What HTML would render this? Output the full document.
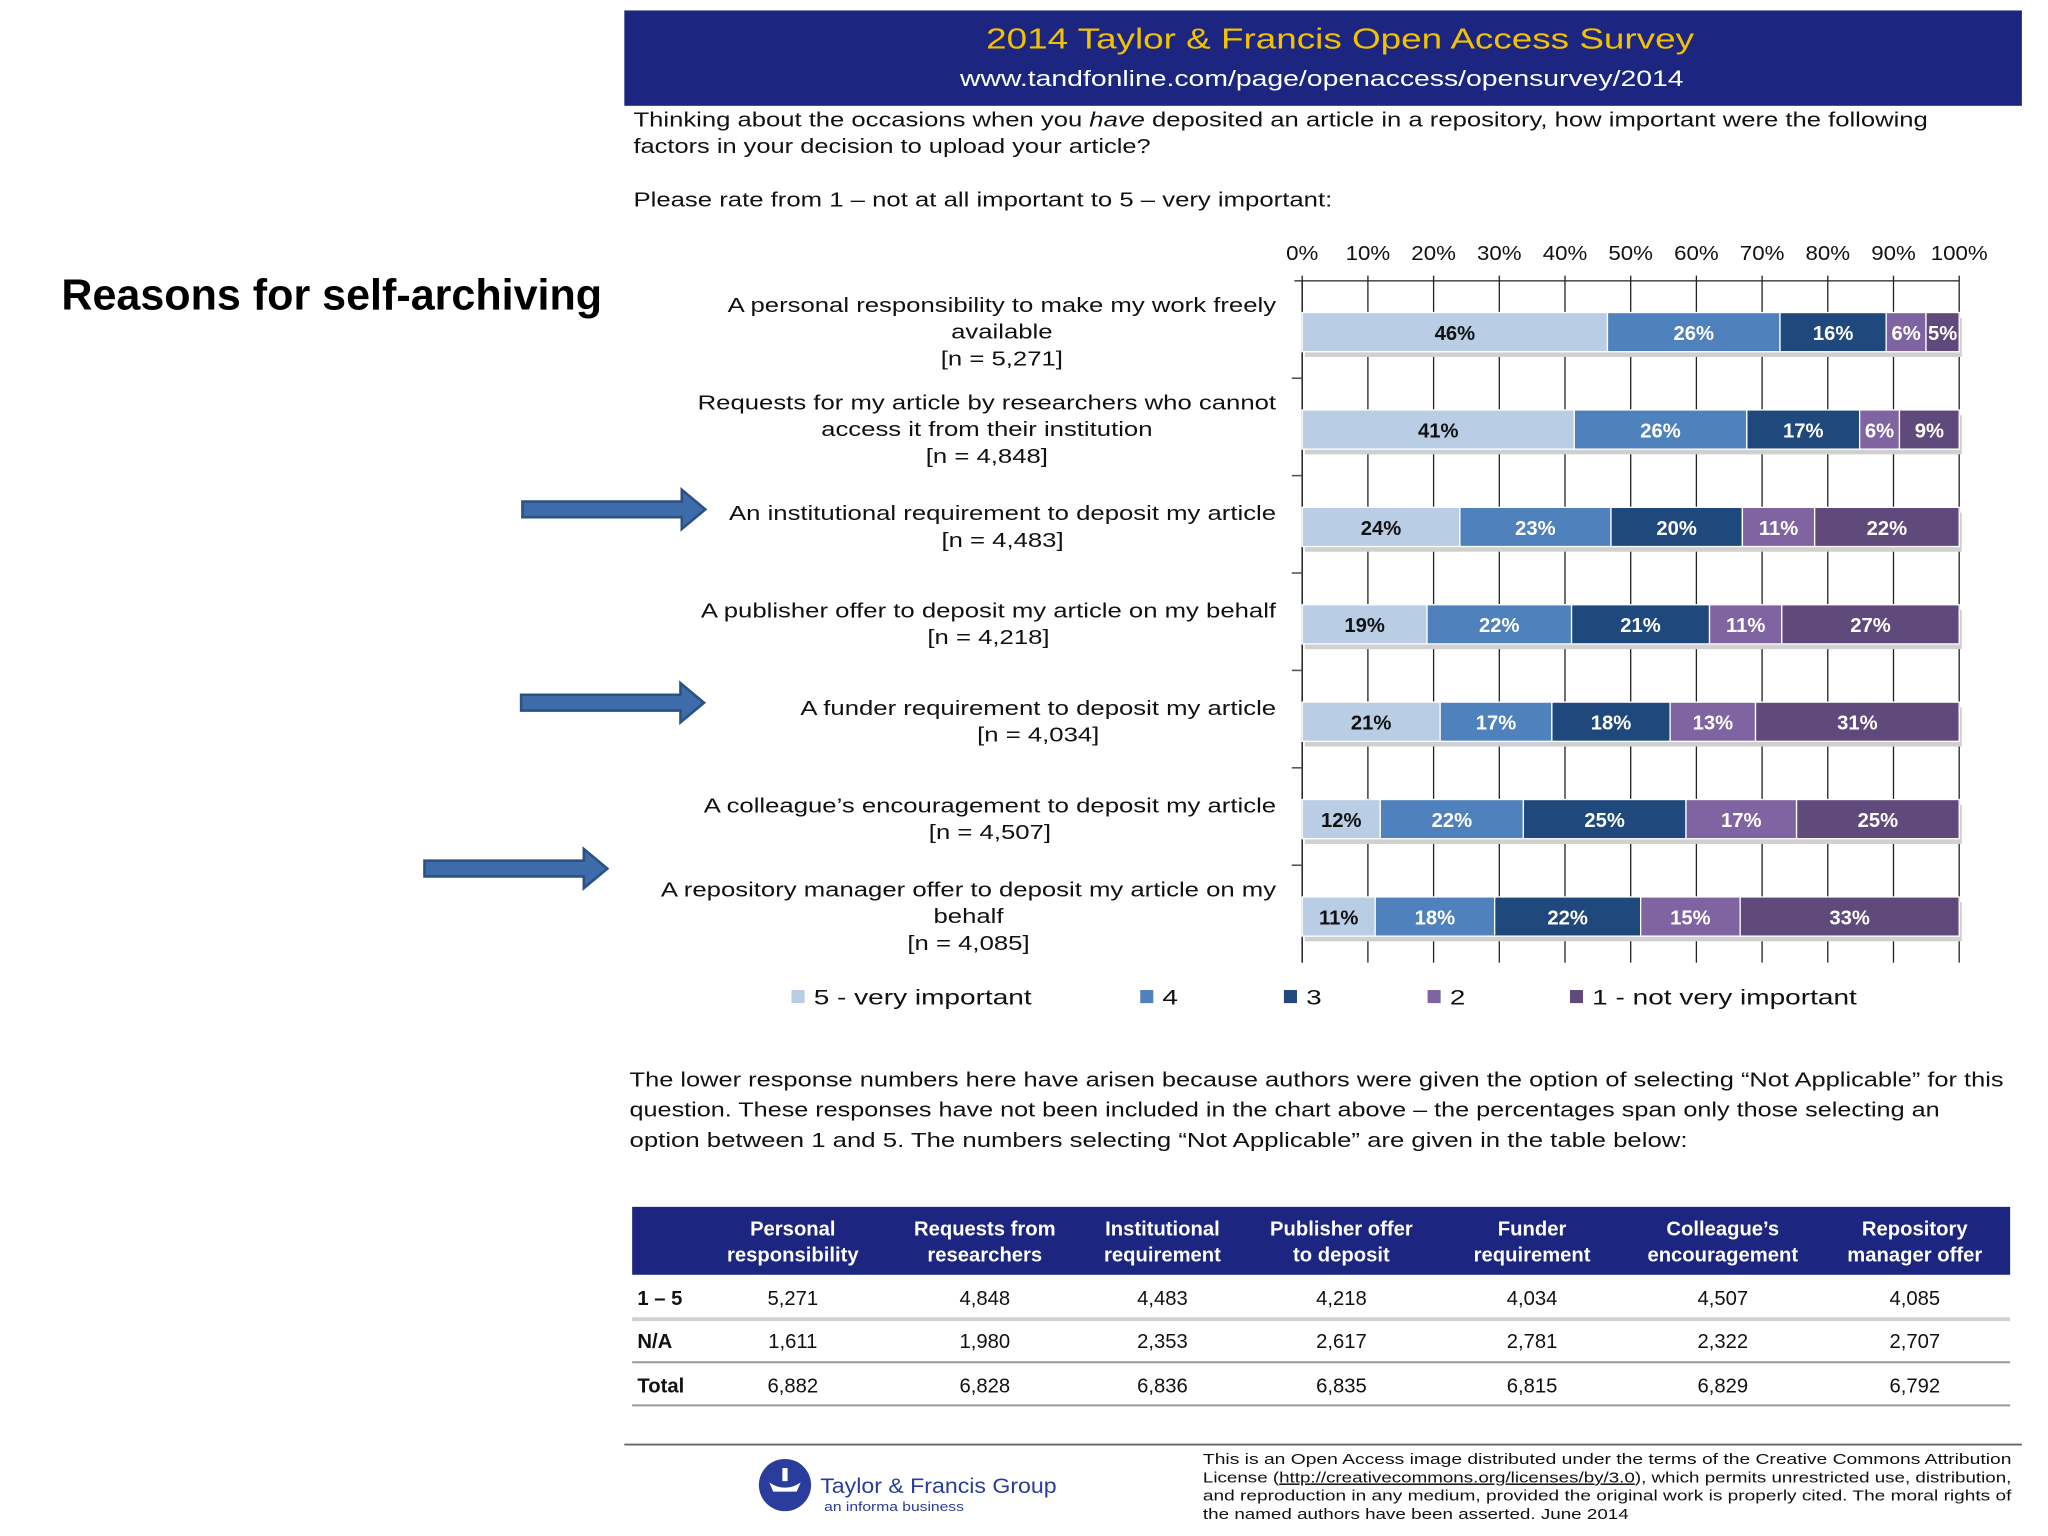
<!DOCTYPE html>
<html><head><meta charset="utf-8"><style>
html,body{margin:0;padding:0;background:#fff;}
svg{display:block;font-family:"Liberation Sans",sans-serif;}
</style></head><body>
<svg width="2048" height="1536" viewBox="0 0 1568 1176">
<text x="47" y="237" font-size="33" font-weight="bold" fill="#000" textLength="414" lengthAdjust="spacingAndGlyphs">Reasons for self-archiving</text>
<rect x="478" y="8" width="1070" height="73" fill="#1c2580"/>
<text x="1026" y="37" font-size="22" fill="#f2c200" text-anchor="middle" textLength="542" lengthAdjust="spacingAndGlyphs">2014 Taylor &amp; Francis Open Access Survey</text>
<text x="1012" y="66" font-size="17" fill="#fff" text-anchor="middle" textLength="554" lengthAdjust="spacingAndGlyphs">www.tandfonline.com/page/openaccess/opensurvey/2014</text>
<g font-size="15.5" fill="#111">
<text x="485" y="97" textLength="991" lengthAdjust="spacingAndGlyphs">Thinking about the occasions when you <tspan font-style="italic">have</tspan> deposited an article in a repository, how important were the following</text>
<text x="485" y="117" textLength="396" lengthAdjust="spacingAndGlyphs">factors in your decision to upload your article?</text>
<text x="485" y="158" textLength="535" lengthAdjust="spacingAndGlyphs">Please rate from 1 – not at all important to 5 – very important:</text>
</g>
<g id="chart"></g>
<g id="arrows"></g>
<g font-size="15.5" fill="#111">
<text x="482" y="832" textLength="1052" lengthAdjust="spacingAndGlyphs">The lower response numbers here have arisen because authors were given the option of selecting “Not Applicable” for this</text>
<text x="482" y="855" textLength="1003" lengthAdjust="spacingAndGlyphs">question.  These responses have not been included in the chart above – the percentages span only those selecting an</text>
<text x="482" y="878" textLength="810" lengthAdjust="spacingAndGlyphs">option between 1 and 5.  The numbers selecting “Not Applicable” are given in the table below:</text>
</g>
<g id="table"></g>
<line x1="478" y1="1106" x2="1548" y2="1106" stroke="#666" stroke-width="1.5"/>
<g>
<circle cx="601" cy="1137" r="20" fill="#2a3d9c"/>
<path d="M589 1135 q12 8 24 0 l-3 7 h-18 z" fill="#fff"/>
<rect x="599" y="1124" width="4" height="10" fill="#fff"/>
<text x="628" y="1143" font-size="16" fill="#2a3d9c" textLength="181" lengthAdjust="spacingAndGlyphs">Taylor &amp; Francis Group</text>
<text x="631" y="1157" font-size="10" fill="#2a3d9c" textLength="107" lengthAdjust="spacingAndGlyphs">an informa business</text>
</g>
<g font-size="11.5" fill="#111">
<text x="921" y="1121" textLength="619" lengthAdjust="spacingAndGlyphs">This is an Open Access image distributed under the terms of the Creative Commons Attribution</text>
<text x="921" y="1135" textLength="619" lengthAdjust="spacingAndGlyphs">License (<tspan text-decoration="underline">http://creativecommons.org/licenses/by/3.0</tspan>), which permits unrestricted use, distribution,</text>
<text x="921" y="1149" textLength="619" lengthAdjust="spacingAndGlyphs">and reproduction in any medium, provided the original work is properly cited. The moral rights of</text>
<text x="921" y="1163" textLength="326" lengthAdjust="spacingAndGlyphs">the named authors have been asserted.   June 2014</text>
</g>
</svg>
<script>
const NS="http://www.w3.org/2000/svg";
const categories=[
 ["A personal responsibility to make my work freely","available","[n = 5,271]"],
 ["Requests for my article by researchers who cannot","access it from their institution","[n = 4,848]"],
 ["An institutional requirement to deposit my article","[n = 4,483]"],
 ["A publisher offer to deposit my article on my behalf","[n = 4,218]"],
 ["A funder requirement to deposit my article","[n = 4,034]"],
 ["A colleague’s encouragement to deposit my article","[n = 4,507]"],
 ["A repository manager offer to deposit my article on my","behalf","[n = 4,085]"]
];
const s5=[46,41,24,19,21,12,11];
const s4=[26,26,23,22,17,22,18];
const s3=[16,17,20,21,18,25,22];
const s2=[6,6,11,11,13,17,15];
const s1=[5,9,22,27,31,25,33];
const seriesNames=["5 - very important","4","3","2","1 - not very important"];
const tickLabels=["0%","10%","20%","30%","40%","50%","60%","70%","80%","90%","100%"];
const tableCols=[["Personal","responsibility"],["Requests from","researchers"],["Institutional","requirement"],["Publisher offer","to deposit"],["Funder","requirement"],["Colleague’s","encouragement"],["Repository","manager offer"]];
const tableRowLabels=["1 – 5","N/A","Total"];
const rowOk=["5,271","4,848","4,483","4,218","4,034","4,507","4,085"];
const rowNA=["1,611","1,980","2,353","2,617","2,781","2,322","2,707"];
const rowTotal=["6,882","6,828","6,836","6,835","6,815","6,829","6,792"];

const colors=["#b9cde5","#4f81bd","#1f497d","#8064a2","#604a7b"];
const X0=997,X1=1500,YT=215,YB=737;
const xs=v=>X0+(X1-X0)*v/100;
const rowH=(YB-YT)/categories.length;
const yc=i=>YT+rowH*(i+0.5)+2;
function el(tag,attrs,parent,txt){const e=document.createElementNS(NS,tag);for(const k in attrs)e.setAttribute(k,attrs[k]);if(txt!==undefined)e.textContent=txt;parent.appendChild(e);return e;}
function stretch(t,f){const w=t.getComputedTextLength();t.setAttribute("textLength",w*f);t.setAttribute("lengthAdjust","spacingAndGlyphs");return w*f;}
const chart=document.getElementById("chart");
let a=el("line",{x1:X0-6,y1:YT,x2:X1,y2:YT,stroke:"#555","stroke-width":1.2},chart);


a=el("line",{x1:X0,y1:YT,x2:X0,y2:YB,stroke:"#555","stroke-width":1.2},chart);


tickLabels.forEach((t,k)=>{
 const x=xs(k*10);
 const g=el("line",{x1:x,y1:YT-4,x2:x,y2:YB,stroke:"#222","stroke-width":1},chart);
 
 
 const tx=el("text",{x:x,y:199,"font-size":15.5,"text-anchor":"middle",fill:"#111"},chart,t);
 
 
 stretch(tx,1.1);
});
for(let i=1;i<categories.length;i++){
 const y=YT+rowH*i;
 const tk=el("line",{x1:X0-8,y1:y,x2:X0,y2:y,stroke:"#555","stroke-width":1.2},chart);
 
 
}
const series=[s5,s4,s3,s2,s1];
categories.forEach((lines,i)=>{
 const c=yc(i);
 const n=lines.length;
 const ts=lines.map((ln,j)=>{
  const t=el("text",{x:0,y:c+5+(j-(n-1)/2)*20.5,"font-size":15.5,"text-anchor":"middle",fill:"#111"},chart,ln);
  
  
  return t;
 });
 const ws=ts.map(t=>stretch(t,1.27));
 const cx=977-Math.max(...ws)/2;
 ts.forEach(t=>t.setAttribute("x",cx));
 const tot=series.reduce((s,a)=>s+a[i],0);
 const sh=el("rect",{x:X0+2,y:c-15+4,width:X1-X0,height:30,fill:"#d0d0d0"},chart);
 
 
 let acc=0;
 series.forEach((s,k)=>{
  const v=s[i]/tot*100;
  const x=xs(acc),w=xs(acc+v)-x;
  const r=el("rect",{x:x,y:c-15,width:w,height:30,fill:colors[k],stroke:"#fff","stroke-width":1},chart);
  
  
  const lb=el("text",{x:x+w/2,y:c+6,"font-size":15.5,"font-weight":"bold","text-anchor":"middle",fill:k==0?"#111":"#fff"},chart,s[i]+"%");
  
  
  acc+=v;
 });
});
const legX=[606,873,983,1093,1202];
seriesNames.forEach((nm,k)=>{
 const g=el("g",{},chart);
 
 
 el("rect",{x:legX[k],y:758,width:10,height:10,fill:colors[k]},g);
 const t=el("text",{x:legX[k]+17,y:769,"font-size":16.5,fill:"#111"},g,nm);
 stretch(t,1.3);
});
const arrows=document.getElementById("arrows");
[[400,390,540],[399,538,539],[325,665,465]].forEach(([x1,y,x2])=>{
 const p=el("path",{d:`M${x1} ${y-6} H${x2-18} V${y-15} L${x2} ${y} L${x2-18} ${y+15} V${y+6} H${x1} Z`,fill:"#3e6cab",stroke:"#2c5183","stroke-width":2},arrows);
 
 
});
const tbl=document.getElementById("table");
const hb=el("rect",{x:484,y:924,width:1055,height:52,fill:"#1c2580"},tbl);


const colX=[607,754,890,1027,1173,1319,1466];
tableCols.forEach((c,k)=>{
 c.forEach((ln,j)=>{
  const t=el("text",{x:colX[k],y:946+j*20,"font-size":15.5,"font-weight":"bold","text-anchor":"middle",fill:"#fff"},tbl,ln);
  
  
 });
});
const rows=[rowOk,rowNA,rowTotal];
const rowY=[999,1032,1066];
rows.forEach((r,i)=>{
 const l=el("text",{x:488,y:rowY[i],"font-size":15.5,"font-weight":"bold",fill:"#111"},tbl,tableRowLabels[i]);
 
 
 r.forEach((v,k)=>{
  const t=el("text",{x:colX[k],y:rowY[i],"font-size":15.5,"text-anchor":"middle",fill:"#111"},tbl,v);
  
  
 });
});
[[1010,3,"#d0d0d0"],[1043,1.5,"#999"],[1076,1.5,"#999"]].forEach(([y,w,c])=>{
 const ln=el("line",{x1:484,y1:y,x2:1539,y2:y,stroke:c,"stroke-width":w},tbl);
 
 
});
</script>
</body></html>
